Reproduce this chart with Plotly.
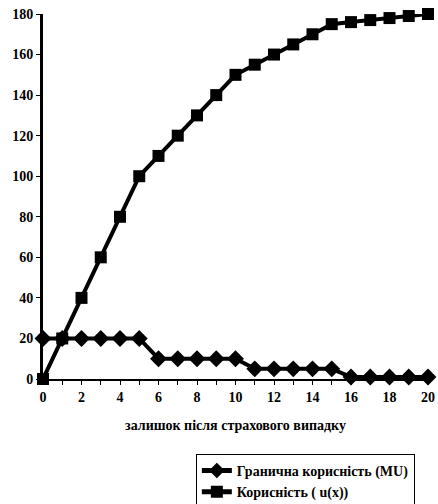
import plotly.graph_objects as go

x_vals = list(range(0, 21))
mu_vals = [20, 20, 20, 20, 20, 20, 10, 10, 10, 10, 10, 5, 5, 5, 5, 5, 1, 1, 1, 1, 1]
u_vals = [0, 20, 40, 60, 80, 100, 110, 120, 130, 140, 150, 155, 160, 165, 170, 175, 176, 177, 178, 179, 180]
y_ticks = [0, 20, 40, 60, 80, 100, 120, 140, 160, 180]
x_ticks = [0, 2, 4, 6, 8, 10, 12, 14, 16, 18, 20]

font_family = "Liberation Serif, Times New Roman, serif"

fig = go.Figure()
fig.add_trace(go.Scatter(
    x=x_vals, y=mu_vals, mode="lines+markers", name="<b>Гранична корисність (MU)</b>",
    line=dict(color="black", width=4),
    marker=dict(symbol="diamond", size=13, color="black"),
    cliponaxis=False,
))
fig.add_trace(go.Scatter(
    x=x_vals, y=u_vals, mode="lines+markers", name="<b>Корисність ( u(x))</b>",
    line=dict(color="black", width=4),
    marker=dict(symbol="square", size=12, color="black"),
    cliponaxis=False,
))

fig.update_layout(
    width=438, height=504,
    margin=dict(l=43, r=10, t=14, b=125, autoexpand=False),
    paper_bgcolor="white", plot_bgcolor="white",
    font=dict(family=font_family, color="black", size=14),
    showlegend=True,
    legend=dict(
        x=0.397, y=-0.205, xanchor="left", yanchor="top",
        bordercolor="black", borderwidth=1, bgcolor="white",
        font=dict(family=font_family, size=14, color="black"),
        tracegroupgap=0, itemsizing="constant", itemwidth=30,
    ),
    xaxis=dict(
        range=[0, 20], tickvals=x_ticks, ticktext=[f"<b>{v}</b>" for v in x_ticks],
        showgrid=False, zeroline=False, showline=True, linecolor="black", linewidth=2,
        ticks="outside", ticklen=4, tickcolor="black", tickwidth=1,
        minor=dict(dtick=1, ticks="outside", ticklen=4, tickcolor="black"),
        title=dict(text="<b>залишок після страхового випадку</b>", font=dict(size=14), standoff=16),
        tickfont=dict(size=14), automargin=False,
    ),
    yaxis=dict(
        range=[0, 180], tickvals=y_ticks, ticktext=[f"<b>{v}</b>" for v in y_ticks],
        showgrid=False, zeroline=False, showline=True, linecolor="black", linewidth=3,
        ticks="outside", ticklen=4, tickcolor="black", tickwidth=1,
        tickfont=dict(size=14), automargin=False,
    ),
)

fig.write_html("out.html", config={"displayModeBar": False},
               post_script="document.body.style.margin='0';")
